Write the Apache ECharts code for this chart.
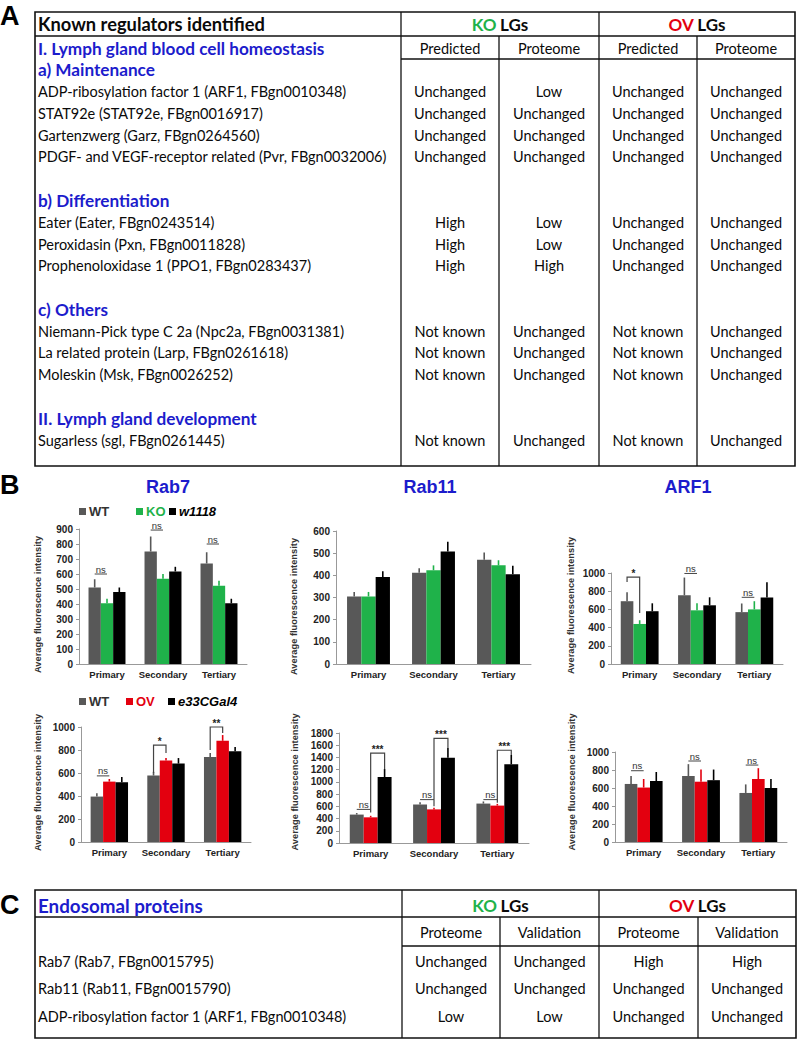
<!DOCTYPE html>
<html>
<head>
<meta charset="utf-8">
<script src="https://cdn.jsdelivr.net/npm/echarts@6/dist/echarts.min.js"></script>
<style>html,body{margin:0;padding:0;background:#fff}#main{width:797px;height:1040px}</style>
</head>
<body>
<div id="main"></div>
<script>
// ---------- DATA ----------
const categories = ['Primary', 'Secondary', 'Tertiary'];

// Row 1 (KO): WT, KO, w1118
const rab7KO_WT = [510, 750, 670], rab7KO_WT_err = [565, 850, 745];
const rab7KO_KO = [405, 568, 522], rab7KO_KO_err = [435, 600, 555];
const rab7KO_W = [480, 617, 405], rab7KO_W_err = [510, 648, 435];

const rab11KO_WT = [305, 412, 470], rab11KO_WT_err = [325, 432, 503];
const rab11KO_KO = [305, 423, 445], rab11KO_KO_err = [325, 445, 468];
const rab11KO_W = [392, 508, 405], rab11KO_W_err = [418, 552, 443];

const arf1KO_WT = [690, 755, 570], arf1KO_WT_err = [788, 950, 665];
const arf1KO_KO = [440, 590, 600], arf1KO_KO_err = [481, 667, 690];
const arf1KO_W = [580, 645, 730], arf1KO_W_err = [667, 733, 897];

// Row 2 (OV): WT, OV, e33CGal4
const rab7OV_WT = [395, 578, 740], rab7OV_WT_err = [425, 610, 774];
const rab7OV_OV = [525, 708, 880], rab7OV_OV_err = [548, 730, 930];
const rab7OV_E = [520, 682, 790], rab7OV_E_err = [565, 730, 826];

const rab11OV_WT = [465, 630, 645], rab11OV_WT_err = [490, 665, 680];
const rab11OV_OV = [420, 550, 612], rab11OV_OV_err = [445, 575, 640];
const rab11OV_E = [1080, 1395, 1288], rab11OV_E_err = [1210, 1555, 1440];

const arf1OV_WT = [645, 733, 545], arf1OV_WT_err = [733, 865, 640];
const arf1OV_OV = [605, 670, 700], arf1OV_OV_err = [700, 805, 820];
const arf1OV_E = [678, 687, 600], arf1OV_E_err = [778, 805, 700];

// significance marks: [category, leftBar, rightBar, top, leftLeg, rightLeg, label]
const rab7KO_sig = [[0,0,1,600,null,null,'ns'],[1,0,1,893,null,null,'ns'],[2,0,1,800,null,null,'ns']];
const rab11KO_sig = [];
const arf1KO_sig = [[0,0,1,955,900,560,'*'],[1,0,1,995,null,null,'ns'],[2,0,1,733,null,null,'ns']];
const rab7OV_sig = [[0,0,1,575,null,null,'ns'],[1,0,1,843,600,774,'*'],[2,0,1,1000,800,948,'**']];
const rab11OV_sig = [[0,0,1,550,null,null,'ns'],[0,1,2,1470,500,1210,'***'],[1,0,1,710,null,null,'ns'],[1,1,2,1712,600,1555,'***'],[2,0,1,710,null,null,'ns'],[2,1,2,1518,660,1440,'***']];
const arf1OV_sig = [[0,0,1,792,null,null,'ns'],[1,0,1,900,null,null,'ns'],[2,0,1,855,null,null,'ns']];

const chartTitles = ['Rab7', 'Rab11', 'ARF1'];
const yAxisMax = [900, 600, 1000, 1000, 1800, 1000];
const yAxisInterval = [100, 100, 200, 200, 200, 200];
const seriesNamesKO = ['WT', 'KO', 'w1118'];
const seriesNamesOV = ['WT', 'OV', 'e33CGal4'];
const yAxisName = 'Average fluorescence intensity';

// Tables
const tableATitle = 'Known regulators identified';
const tableASub = ['Predicted', 'Proteome', 'Predicted', 'Proteome'];
const tableARows = [
  ['#I. Lymph gland blood cell homeostasis'],
  ['#a) Maintenance'],
  ['ADP-ribosylation factor 1 (ARF1, FBgn0010348)', 'Unchanged', 'Low', 'Unchanged', 'Unchanged'],
  ['STAT92e (STAT92e, FBgn0016917)', 'Unchanged', 'Unchanged', 'Unchanged', 'Unchanged'],
  ['Gartenzwerg (Garz, FBgn0264560)', 'Unchanged', 'Unchanged', 'Unchanged', 'Unchanged'],
  ['PDGF- and VEGF-receptor related (Pvr, FBgn0032006)', 'Unchanged', 'Unchanged', 'Unchanged', 'Unchanged'],
  [''],
  ['#b) Differentiation'],
  ['Eater (Eater, FBgn0243514)', 'High', 'Low', 'Unchanged', 'Unchanged'],
  ['Peroxidasin (Pxn, FBgn0011828)', 'High', 'Low', 'Unchanged', 'Unchanged'],
  ['Prophenoloxidase 1 (PPO1, FBgn0283437)', 'High', 'High', 'Unchanged', 'Unchanged'],
  [''],
  ['#c) Others'],
  ['Niemann-Pick type C 2a (Npc2a, FBgn0031381)', 'Not known', 'Unchanged', 'Not known', 'Unchanged'],
  ['La related protein (Larp, FBgn0261618)', 'Not known', 'Unchanged', 'Not known', 'Unchanged'],
  ['Moleskin (Msk, FBgn0026252)', 'Not known', 'Unchanged', 'Not known', 'Unchanged'],
  [''],
  ['#II. Lymph gland development'],
  ['Sugarless (sgl, FBgn0261445)', 'Not known', 'Unchanged', 'Not known', 'Unchanged']
];
const tableCTitle = 'Endosomal proteins';
const tableCSub = ['Proteome', 'Validation', 'Proteome', 'Validation'];
const tableCRows = [
  ['Rab7 (Rab7, FBgn0015795)', 'Unchanged', 'Unchanged', 'High', 'High'],
  ['Rab11 (Rab11, FBgn0015790)', 'Unchanged', 'Unchanged', 'Unchanged', 'Unchanged'],
  ['ADP-ribosylation factor 1 (ARF1, FBgn0010348)', 'Low', 'Low', 'Unchanged', 'Unchanged']
];

// ---------- STYLE / LAYOUT ----------
const GRAY = '#585858', GREEN = '#1fb24a', RED = '#e3000f', BLACK = '#000000', BLUE = '#1c1ccc';
const colorsKO = [GRAY, GREEN, BLACK];
const colorsOV = [GRAY, RED, BLACK];
const TF = 'Lato, "Open Sans", sans-serif';
const AF = 'Arial, "Liberation Sans", sans-serif';
const TXT = '#0a0a0a';

const grids = [
  {left: 79, top: 529, width: 168, height: 135},
  {left: 336, top: 531, width: 195, height: 133},
  {left: 611, top: 573, width: 172, height: 91},
  {left: 81, top: 727, width: 170, height: 115},
  {left: 339, top: 733, width: 190, height: 110},
  {left: 615, top: 752, width: 172, height: 90}
];
const namePad = [[0,16,0,0],[0,18,0,0],[0,0,0,26],[0,0,0,4],[0,0,0,12],[0,0,0,30]];
const nameGaps = [37, 38, 36, 39, 40, 39];

const chartData = [
  [[rab7KO_WT, rab7KO_KO, rab7KO_W], [rab7KO_WT_err, rab7KO_KO_err, rab7KO_W_err], rab7KO_sig],
  [[rab11KO_WT, rab11KO_KO, rab11KO_W], [rab11KO_WT_err, rab11KO_KO_err, rab11KO_W_err], rab11KO_sig],
  [[arf1KO_WT, arf1KO_KO, arf1KO_W], [arf1KO_WT_err, arf1KO_KO_err, arf1KO_W_err], arf1KO_sig],
  [[rab7OV_WT, rab7OV_OV, rab7OV_E], [rab7OV_WT_err, rab7OV_OV_err, rab7OV_E_err], rab7OV_sig],
  [[rab11OV_WT, rab11OV_OV, rab11OV_E], [rab11OV_WT_err, rab11OV_OV_err, rab11OV_E_err], rab11OV_sig],
  [[arf1OV_WT, arf1OV_OV, arf1OV_E], [arf1OV_WT_err, arf1OV_OV_err, arf1OV_E_err], arf1OV_sig]
];

const BAR_FRAC = 0.22;

function errRender(colors) {
  return function (params, api) {
    const ci = api.value(0), si = api.value(1);
    const p0 = api.coord([ci, api.value(2)]);
    const p1 = api.coord([ci, api.value(3)]);
    const band = api.size([1, 0])[0];
    const x = p0[0] + (si - 1) * band * BAR_FRAC;
    return {type: 'line', shape: {x1: x, y1: p0[1], x2: x, y2: p1[1]},
      style: {stroke: colors[si], lineWidth: 1.6}};
  };
}

function sigRender(params, api) {
  const ci = api.value(0), li = api.value(1), ri = api.value(2);
  const top = api.value(3), ll = api.value(4), rl = api.value(5);
  const label = api.value(6);
  const band = api.size([1, 0])[0];
  const c = api.coord([ci, top]);
  const xl = c[0] + (li - 1) * band * BAR_FRAC;
  const xr = c[0] + (ri - 1) * band * BAR_FRAC;
  const y = c[1];
  const children = [];
  if (label === 'ns') {
    children.push({type: 'line', shape: {x1: xl, y1: y, x2: xr, y2: y}, style: {stroke: '#444', lineWidth: 1}});
    children.push({type: 'text', style: {text: 'ns', x: (xl + xr) / 2, y: y, align: 'center', verticalAlign: 'bottom',
      font: '9.5px ' + AF, fill: '#333'}});
  } else {
    const yl = api.coord([ci, ll])[1], yr = api.coord([ci, rl])[1];
    children.push({type: 'polyline', shape: {points: [[xl, yl], [xl, y], [xr, y], [xr, yr]]},
      style: {stroke: '#444', lineWidth: 1.2, fill: null}});
    children.push({type: 'text', style: {text: label, x: (xl + xr) / 2, y: y + 1, align: 'center', verticalAlign: 'bottom',
      font: 'bold 10px ' + AF, fill: '#222'}});
  }
  return {type: 'group', children: children};
}

const option = {
  animation: false,
  backgroundColor: '#fff',
  title: [],
  legend: [],
  grid: [],
  xAxis: [],
  yAxis: [],
  series: [],
  graphic: []
};

// chart titles
const titleX = [168, 430, 688];
chartTitles.forEach((t, i) => {
  option.title.push({text: t, left: titleX[i], top: 478, textAlign: 'center', padding: 0,
    textStyle: {color: BLUE, fontSize: 18, fontWeight: 'bold', fontFamily: AF}});
});

// legends
function legendItem(name, left, top, color, italic) {
  return {left: left, top: top, padding: 0, itemWidth: 7, itemHeight: 7, icon: 'rect', itemGap: 0,
    selectedMode: false,
    data: [{name: name, textStyle: {color: color, fontStyle: italic ? 'italic' : 'normal'}}],
    textStyle: {fontSize: 13, fontWeight: 'bold', fontFamily: AF, padding: [0, 0, 0, -2]}};
}
option.legend.push(legendItem('WT', 79, 505, '#333', false));
option.legend.push(legendItem('KO', 136, 505, GREEN, false));
option.legend.push(legendItem('w1118', 169, 505, '#000', true));
option.legend.push(legendItem('WT', 79, 695, '#333', false));
option.legend.push(legendItem('OV', 126, 695, RED, false));
option.legend.push(legendItem('e33CGal4', 168, 695, '#000', true));

chartData.forEach((cd, gi) => {
  const colors = gi < 3 ? colorsKO : colorsOV;
  const names = gi < 3 ? seriesNamesKO : seriesNamesOV;
  option.grid.push(grids[gi]);
  option.xAxis.push({type: 'category', gridIndex: gi, data: categories,
    axisLine: {lineStyle: {color: '#999', width: 1}}, axisTick: {show: false},
    axisLabel: {interval: 0, color: '#222', fontSize: 9.5, fontWeight: 'bold', fontFamily: AF, margin: 5}});
  option.yAxis.push({type: 'value', gridIndex: gi, min: 0, max: yAxisMax[gi], interval: yAxisInterval[gi],
    name: yAxisName, nameLocation: 'middle', nameGap: nameGaps[gi],
    nameTextStyle: {color: '#333', fontSize: 9.3, fontWeight: 'bold', fontFamily: AF, padding: namePad[gi]},
    axisLine: {show: true, lineStyle: {color: '#999', width: 1}},
    axisTick: {show: true, length: 3, lineStyle: {color: '#999'}},
    splitLine: {show: false},
    axisLabel: {color: '#222', fontSize: 10, fontWeight: 'bold', fontFamily: AF, margin: 6,
      formatter: (v) => String(v)}});
  const vals = cd[0], errs = cd[1], sig = cd[2];
  vals.forEach((v, si) => {
    option.series.push({type: 'bar', name: names[si], xAxisIndex: gi, yAxisIndex: gi, data: v,
      barWidth: (BAR_FRAC * 100) + '%', barGap: '0%', itemStyle: {color: colors[si]}});
  });
  const errData = [];
  errs.forEach((e, si) => e.forEach((ev, ci) => errData.push([ci, si, vals[si][ci], ev])));
  option.series.push({type: 'custom', name: 'err' + gi, xAxisIndex: gi, yAxisIndex: gi, clip: false,
    renderItem: errRender(colors), data: errData, encode: {x: 0, y: [2, 3]}, z: 3});
  if (sig.length) {
    option.series.push({type: 'custom', name: 'sig' + gi, xAxisIndex: gi, yAxisIndex: gi, clip: false,
      renderItem: sigRender, data: sig, encode: {x: 0, y: 3}, z: 4});
  }
});

// ---------- TABLES (graphic) ----------
const G = option.graphic;
function line(x1, y1, x2, y2, w) {
  G.push({type: 'line', shape: {x1: x1, y1: y1, x2: x2, y2: y2}, style: {stroke: '#111', lineWidth: w || 1.3}, silent: true});
}
function text(t, x, y, opts) {
  opts = opts || {};
  G.push({type: 'text', x: x, y: y, silent: true, style: Object.assign({text: t,
    font: (opts.bold ? 'bold ' : '') + (opts.size || 14) + 'px ' + (opts.family || TF),
    fill: opts.color || TXT, textAlign: opts.align || 'left', textVerticalAlign: 'middle',
    align: opts.align || 'left', verticalAlign: 'middle'}, opts.rich ? {rich: opts.rich} : {})});
}
const lgRich = (c) => ({c: {fill: c, fontWeight: 'bold', fontSize: 17, fontFamily: TF},
  k: {fill: TXT, fontWeight: 'bold', fontSize: 17, fontFamily: TF}});

// Panel letters
text('A', 0, 16, {bold: true, size: 27, family: AF, color: '#000'});
text('B', 0, 485, {bold: true, size: 27, family: AF, color: '#000'});
text('C', 0, 905, {bold: true, size: 27, family: AF, color: '#000'});

// Table A frame
const AX0 = 35, AX1 = 795, AY0 = 12, AY1 = 466;
const colX = [401, 499, 599, 697, 795];
G.push({type: 'rect', shape: {x: AX0, y: AY0, width: AX1 - AX0, height: AY1 - AY0}, style: {fill: 'none', stroke: '#111', lineWidth: 1.6}, silent: true});
line(AX0, 36, AX1, 36);
line(colX[0], AY0, colX[0], AY1);
line(colX[2], AY0, colX[2], AY1);
line(colX[0], 59, AX1, 59);
line(colX[1], 36, colX[1], AY1);
line(colX[3], 36, colX[3], AY1);
text(tableATitle, 38, 24, {bold: true, size: 18.3});
text('{c|KO} {k|LGs}', (colX[0] + colX[2]) / 2, 24, {align: 'center', rich: lgRich(GREEN)});
text('{c|OV} {k|LGs}', (colX[2] + colX[4]) / 2, 24, {align: 'center', rich: lgRich(RED)});
tableASub.forEach((s, i) => text(s, (colX[i] + colX[i + 1]) / 2, 48, {align: 'center', size: 14.5}));
tableARows.forEach((r, i) => {
  const y = 48 + 21.78 * i;
  if (r[0].charAt(0) === '#') {
    text(r[0].slice(1), 38, y, {bold: true, size: 17.2, color: BLUE});
  } else if (r[0]) {
    text(r[0], 38, y, {size: 14.5});
    for (let k = 1; k < 5; k++) text(r[k], (colX[k - 1] + colX[k]) / 2, y, {align: 'center', size: 14.5});
  }
});

// Table C frame
const CX0 = 35, CX1 = 796, CY0 = 890, CY1 = 1038;
const colC = [402, 500, 599, 698, 796];
G.push({type: 'rect', shape: {x: CX0, y: CY0, width: CX1 - CX0, height: CY1 - CY0}, style: {fill: 'none', stroke: '#111', lineWidth: 1.6}, silent: true});
line(CX0, 917, CX1, 917);
line(colC[0], CY0, colC[0], CY1);
line(colC[2], CY0, colC[2], CY1);
line(colC[0], 946, CX1, 946);
line(colC[1], 917, colC[1], CY1);
line(colC[3], 917, colC[3], CY1);
text(tableCTitle, 38, 905, {bold: true, size: 18.8, color: BLUE});
text('{c|KO} {k|LGs}', (colC[0] + colC[2]) / 2, 905, {align: 'center', rich: lgRich(GREEN)});
text('{c|OV} {k|LGs}', (colC[2] + colC[4]) / 2, 905, {align: 'center', rich: lgRich(RED)});
tableCSub.forEach((s, i) => text(s, (colC[i] + colC[i + 1]) / 2, 932, {align: 'center', size: 14.5}));
tableCRows.forEach((r, i) => {
  const y = 961 + 27.5 * i;
  text(r[0], 38, y, {size: 14.5});
  for (let k = 1; k < 5; k++) text(r[k], (colC[k - 1] + colC[k]) / 2, y, {align: 'center', size: 14.5});
});

const chart = echarts.init(document.getElementById('main'), null, {renderer: 'svg', width: 797, height: 1040});
chart.setOption(option);
</script>
</body>
</html>
